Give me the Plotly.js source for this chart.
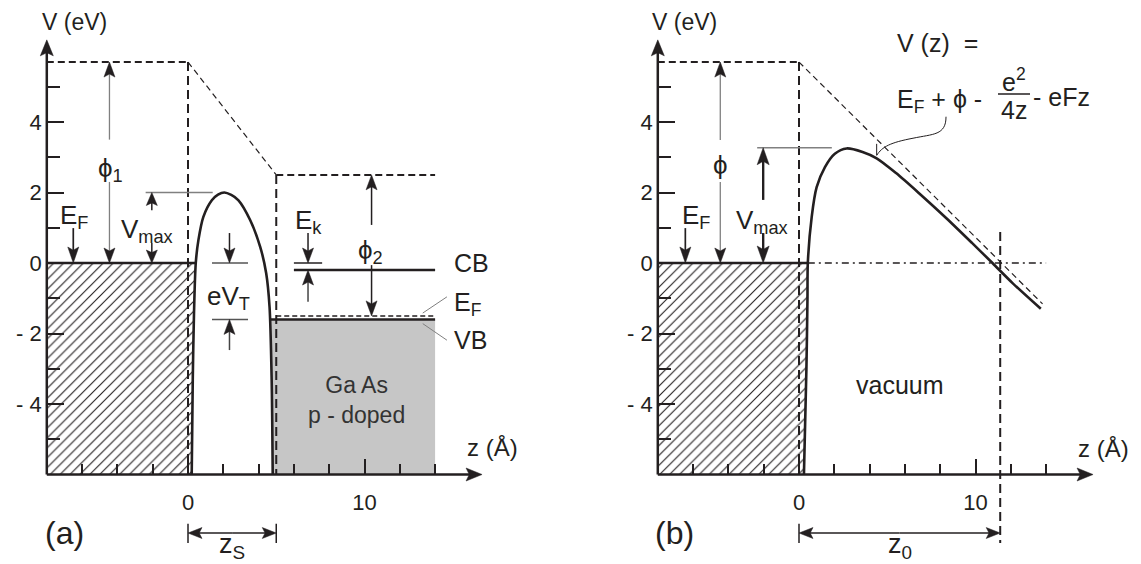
<!DOCTYPE html>
<html><head><meta charset="utf-8">
<script src="https://cdn.plot.ly/plotly-3.0.1.min.js"></script>
<style>html,body{margin:0;padding:0;background:#fff;}#plot{width:1141px;height:564px;}</style>
</head><body><div id="plot"></div>
<script>
// ---------------- values ----------------
// axes (both panels)
const yTickVals = [-4, -2, 0, 2, 4];
const yTickText = ['- 4', '- 2', '0', '2', '4'];
const yMinorVals = [-5, -3, -1, 1, 3, 5];
const xTickVals = [0, 10];
const xTickText = ['0', '10'];
const xMinorVals = [-6, -4, -2, 2, 4, 6, 8, 12, 14];
const zAxisMin = -8, vAxisMin = -6, zArrowTip = 16.66, vArrowTip = 6.33;

// panel (a): metal tip / gap / p-doped GaAs
const zBarrierA = [0.21, 0.27, 0.34, 0.44, 0.59, 0.87, 1.35, 1.7, 2.06, 2.45, 2.86, 3.52, 4.09, 4.43, 4.62, 4.74, 4.80];
const vBarrierA = [-6.0, -3.31, -1.42, 0.0, 0.65, 1.31, 1.78, 1.94, 2.0, 1.93, 1.78, 1.22, 0.46, -0.29, -1.24, -3.31, -6.0];
const vacTip = 5.7;      // E_F + phi1
const zGap = 5;          // z_S
const vacGaAs = 2.5;     // vacuum level of GaAs
const cbGaAs = -0.2;     // CB
const efGaAs = -1.5;     // E_F of GaAs
const vbGaAs = -1.6;     // VB
const vmaxA = 2.0;
const zSampleEnd = 14;

// panel (b): metal / vacuum with applied field
const zBarrierB = [0.28, 0.42, 0.48, 0.5, 0.72, 1.0, 1.47, 2.03, 2.7, 3.6, 4.4, 5.5, 6.8, 8.35, 9.8, 10.96, 12.1, 13.7];
const vBarrierB = [-6.0, -3.0, -1.0, 0.0, 1.31, 2.15, 2.72, 3.1, 3.25, 3.15, 2.97, 2.55, 1.98, 1.27, 0.57, 0.0, -0.57, -1.3];
const vmaxB = 3.27;
const z0 = 11.4;
const fieldLineEnd = [13.8, -1.16];
const zDashDotEnd = 14;

// ---------------- layout geometry (pixels) ----------------
const W = 1141, H = 564, SPLIT = 560;
const X0A = 188, X0B = 799, SX = 17.65, Y0 = 263, SY = 35.25;
const INK = '#231f20', GRAY = '#808080', FONT = 'Liberation Sans, Arial, Helvetica, sans-serif';
const A = {x: 'x', y: 'y'}, B = {x: 'x2', y: 'y2'};

const shapes = [], annotations = [];

function seg(ax, x0, y0, x1, y1, o = {}) {
  shapes.push({type: 'line', xref: ax.x, yref: ax.y, x0, y0, x1, y1,
    line: {color: o.color || INK, width: o.width || 1.5, dash: o.dash || 'solid'}});
}
function head(ax, x, y, dir, L = 15, Wd = 11, color = INK) {
  const s = {up: [0, 1], down: [0, -1], left: [-1, 0], right: [1, 0]}[dir];
  const bx = -s[0] * L, by = -s[1] * L, nx = -s[0] * L * 0.8, ny = -s[1] * L * 0.8;
  const px = -s[1] * Wd / 2, py = s[0] * Wd / 2;
  const P = (dx, dy) => (x + dx / SX).toFixed(4) + ',' + (y + dy / SY).toFixed(4);
  shapes.push({type: 'path', xref: ax.x, yref: ax.y,
    path: 'M' + P(0, 0) + 'L' + P(bx + px, by + py) + 'L' + P(nx, ny) + 'L' + P(bx - px, by - py) + 'Z',
    fillcolor: color, line: {width: 0.5, color}});
}
// line from (x0,y0) to head at (x1,y1)
function arrow(ax, x0, y0, x1, y1, o = {}) {
  const L = o.L || 15, Wd = o.Wd || 11;
  let dir, ex = x1, ey = y1;
  if (x0 === x1) { dir = y1 > y0 ? 'up' : 'down'; ey = y1 - Math.sign(y1 - y0) * L * 0.7 / SY; }
  else { dir = x1 > x0 ? 'right' : 'left'; ex = x1 - Math.sign(x1 - x0) * L * 0.7 / SX; }
  seg(ax, x0, y0, ex, ey, o);
  head(ax, x1, y1, dir, L, Wd, o.headColor || INK);
}
function ann(px, py, text, size = 25, xanchor = 'center', o = {}) {
  annotations.push(Object.assign({xref: 'paper', yref: 'paper', x: px / W, y: 1 - py / H, text,
    showarrow: false, xanchor, yanchor: 'middle', font: {family: FONT, size, color: INK}}, o));
}
function zAt(zs, vs, v) {
  for (let i = 0; i < zs.length - 1; i++) {
    const a = vs[i], b = vs[i + 1];
    if ((a - v) * (b - v) <= 0 && a !== b) return zs[i] + (zs[i + 1] - zs[i]) * (v - a) / (b - a);
  }
  return zs[0];
}
function branches(zs, vs) {
  const k = vs.indexOf(Math.max(...vs));
  return {lz: zs.slice(0, k + 1), lv: vs.slice(0, k + 1), rz: zs.slice(k), rv: vs.slice(k)};
}
function axesShapes(ax) {
  seg(ax, zAxisMin, vAxisMin, zArrowTip - 10 / SX, vAxisMin, {width: 2.5});
  head(ax, zArrowTip, vAxisMin, 'right', 16, 13);
  seg(ax, zAxisMin, vAxisMin, zAxisMin, vArrowTip - 10 / SY, {width: 2.5});
  head(ax, zAxisMin, vArrowTip, 'up', 16, 13);
}

// ---------------- panel (a) ----------------
const brA = branches(zBarrierA, vBarrierA);
const zEdgeA = zAt(brA.lz, brA.lv, 0);
const lowA = brA.lz.map((z, i) => [z, brA.lv[i]]).filter(p => p[1] < 0).sort((p, q) => q[1] - p[1]);
const hatchA = {z: [zAxisMin, zAxisMin, zEdgeA, ...lowA.map(p => p[0])],
                v: [vAxisMin, 0, 0, ...lowA.map(p => p[1])]};

const zVbEdge = zAt(brA.rz, brA.rv, vbGaAs);
const lowRA = brA.rz.map((z, i) => [z, brA.rv[i]]).filter(p => p[1] < vbGaAs).sort((p, q) => p[1] - q[1]);
const grayA = {z: [zVbEdge, zSampleEnd, zSampleEnd, ...lowRA.map(p => p[0])],
               v: [vbGaAs, vbGaAs, vAxisMin, ...lowRA.map(p => p[1])]};

seg(A, zAxisMin, 0, zEdgeA, 0, {width: 2.5});
seg(A, zAxisMin, vacTip, 0, vacTip, {width: 2, dash: '7px,4px'});
seg(A, 0, vacTip, 0, vAxisMin, {width: 2, dash: '9px,5px'});
seg(A, 0, vacTip, zGap, vacGaAs, {width: 1.2, dash: '6px,4px'});
seg(A, zGap, vacGaAs, zSampleEnd, vacGaAs, {width: 2, dash: '7px,4px'});
seg(A, zGap, vacGaAs, zGap, vAxisMin, {width: 2, dash: '9px,5px'});
seg(A, zVbEdge, vbGaAs, zSampleEnd, vbGaAs, {width: 2.5});
seg(A, zGap, efGaAs, zSampleEnd, efGaAs, {width: 1.5, dash: '5px,3px'});
seg(A, 6, cbGaAs, zSampleEnd, cbGaAs, {width: 2.5});
seg(A, 6, 0, 7.6, 0, {width: 1.5});
seg(A, 1.36, 0, 3.4, 0, {width: 1.5, color: '#555'});
seg(A, 1.36, vbGaAs, 3.4, vbGaAs, {width: 1.5, color: '#555'});
seg(A, -2.4, vmaxA, 1.4, vmaxA, {width: 1.5, color: GRAY});
// arrows
arrow(A, -6.5, 0.99, -6.5, 0, {L: 16, Wd: 11, width: 1.7});
arrow(A, -4.45, 3.5, -4.45, vacTip, {color: GRAY, width: 1.3});
arrow(A, -4.45, 2.3, -4.45, 0, {color: GRAY, width: 1.3});
arrow(A, -2.05, 1.5, -2.05, vmaxA, {L: 13});
arrow(A, -2.05, 0.57, -2.05, 0, {L: 13});
arrow(A, 2.35, 0.85, 2.35, 0);
arrow(A, 2.35, -2.47, 2.35, vbGaAs, {color: '#444'});
arrow(A, 6.8, 0.85, 6.8, 0);
arrow(A, 6.8, -1.1, 6.8, cbGaAs, {color: '#444'});
arrow(A, 10.4, 1.08, 10.4, vacGaAs);
arrow(A, 10.4, -0.06, 10.4, efGaAs);
// z_S
seg(A, 0, -7.4, 0, -7.94, {width: 1.5});
seg(A, zGap, -7.4, zGap, -7.94, {width: 1.5});
arrow(A, zGap / 2, -7.66, 0, -7.66, {L: 14, Wd: 11});
arrow(A, zGap / 2, -7.66, zGap, -7.66, {L: 14, Wd: 11});
// leaders to E_F / VB
seg(A, 14.67, -0.96, 13.3, -1.42, {width: 1, color: GRAY});
seg(A, 14.67, -2.19, 13.3, -1.72, {width: 1, color: GRAY});
axesShapes(A);

// ---------------- panel (b) ----------------
const brB = branches(zBarrierB, vBarrierB);
const zEdgeB = zAt(brB.lz, brB.lv, 0);
const lowB = brB.lz.map((z, i) => [z, brB.lv[i]]).filter(p => p[1] < 0).sort((p, q) => q[1] - p[1]);
const hatchB = {z: [zAxisMin, zAxisMin, zEdgeB, ...lowB.map(p => p[0])], v: [vAxisMin, 0, 0, ...lowB.map(p => p[1])]};

seg(B, zAxisMin, 0, zEdgeB, 0, {width: 2.5});
seg(B, zAxisMin, vacTip, 0, vacTip, {width: 2, dash: '7px,4px'});
seg(B, 0, vacTip, 0, vAxisMin, {width: 2, dash: '9px,5px'});
seg(B, 0, vacTip, fieldLineEnd[0], fieldLineEnd[1], {width: 1.2, dash: '6px,4px'});
seg(B, zEdgeB, 0, zDashDotEnd, 0, {width: 1.5, dash: '7px,4px,2px,4px'});
seg(B, z0, 0.88, z0, -7.94, {width: 2, dash: '9px,5px'});
seg(B, -2.37, vmaxB, 1.86, vmaxB, {width: 1.5, color: GRAY});
arrow(B, -6.44, 0.99, -6.44, 0, {L: 16, Wd: 11, width: 1.7});
arrow(B, -4.46, 3.49, -4.46, vacTip, {color: GRAY, width: 1.3});
arrow(B, -4.46, 2.3, -4.46, 0, {color: GRAY, width: 1.3});
arrow(B, -2.03, 1.79, -2.03, vmaxB, {width: 2.4, L: 17, Wd: 12});
arrow(B, -2.03, 0.85, -2.03, 0, {width: 2.4, L: 17, Wd: 12});
seg(B, 0, -7.4, 0, -7.94, {width: 1.5});
arrow(B, z0 / 2, -7.66, 0, -7.66, {L: 14, Wd: 11});
arrow(B, z0 / 2, -7.66, z0, -7.66, {L: 14, Wd: 11});
// leader from formula to curve
shapes.push({type: 'path', xref: 'x2', yref: 'y2', line: {color: INK, width: 1},
  path: 'M8.33,4.15 C8.33,3.62 7.6,3.66 6.46,3.54 C5.2,3.42 4.7,3.3 4.4,3.05'});
seg(B, 4.4, 3.38, 4.4, 3.06, {width: 1});
axesShapes(B);

// fraction bar of the formula
shapes.push({type: 'line', xref: 'paper', yref: 'paper', x0: 998 / W, x1: 1030 / W, y0: 1 - 94 / H, y1: 1 - 94 / H,
  line: {color: INK, width: 1.5}});

// ---------------- texts ----------------
ann(40, 22, 'V (eV)', 23, 'left');
ann(74, 217, 'E<sub>F</sub>', 26);
ann(110, 170, 'ϕ<sub>1</sub>', 26);
ann(147, 231, 'V<sub>max</sub>', 26);
ann(228, 297, 'eV<sub>T</sub>', 26);
ann(308, 221, 'E<sub>k</sub>', 26);
ann(370, 251, 'ϕ<sub>2</sub>', 26);
ann(452, 263, 'CB', 25, 'left');
ann(452, 304, 'E<sub>F</sub>', 25, 'left');
ann(452, 340, 'VB', 25, 'left');
ann(356, 400, 'Ga As<br>p - doped', 23, 'center', {font: {family: FONT, size: 23, color: '#333'}});
ann(465, 447, 'z (Å)', 24, 'left');
ann(43, 533, '(a)', 32, 'left');
ann(232, 546, 'z<sub>S</sub>', 27);

ann(650, 22, 'V (eV)', 23, 'left');
ann(696, 217, 'E<sub>F</sub>', 26);
ann(720, 165, 'ϕ', 26);
ann(762, 221, 'V<sub>max</sub>', 26);
ann(895, 43, 'V (z)  =', 25, 'left');
ann(895, 101, 'E<sub>F</sub> + ϕ - ', 25, 'left');
ann(1014, 80, 'e<sup>2</sup>', 25);
ann(1014, 110, '4z', 25);
ann(1031, 97, '- eFz', 25, 'left');
ann(900, 385, 'vacuum', 25);
ann(1076, 448, 'z (Å)', 24, 'left');
ann(653, 533, '(b)', 32, 'left');
ann(900, 546, 'z<sub>0</sub>', 27);

// ---------------- traces ----------------
const hatchStyle = {shape: '/', size: 7, solidity: 0.16, fgcolor: INK, bgcolor: 'white'};
const traces = [
  {x: hatchA.z, y: hatchA.v, xaxis: 'x', yaxis: 'y', mode: 'lines', fill: 'toself', fillcolor: 'white',
   fillpattern: hatchStyle, line: {width: 0, color: 'rgba(0,0,0,0)'}, hoverinfo: 'skip'},
  {x: grayA.z, y: grayA.v, xaxis: 'x', yaxis: 'y', mode: 'lines', fill: 'toself', fillcolor: '#c6c6c6',
   line: {width: 0, color: 'rgba(0,0,0,0)'}, hoverinfo: 'skip'},
  {x: zBarrierA, y: vBarrierA, xaxis: 'x', yaxis: 'y', mode: 'lines',
   line: {color: INK, width: 2.6, shape: 'spline', smoothing: 0.8}},
  {x: hatchB.z, y: hatchB.v, xaxis: 'x2', yaxis: 'y2', mode: 'lines', fill: 'toself', fillcolor: 'white',
   fillpattern: hatchStyle, line: {width: 0, color: 'rgba(0,0,0,0)'}, hoverinfo: 'skip'},
  {x: zBarrierB, y: vBarrierB, xaxis: 'x2', yaxis: 'y2', mode: 'lines',
   line: {color: INK, width: 2.6, shape: 'spline', smoothing: 0.8}}
];

function axX(domain, x0px) {
  return {domain, range: [(domain[0] * W - x0px) / SX, (domain[1] * W - x0px) / SX], anchor: 'free',
    position: 1 - (Y0 - vAxisMin * SY) / H, showgrid: false, zeroline: false, showline: false,
    tickmode: 'array', tickvals: xTickVals, ticktext: xTickText, ticks: 'inside', ticklen: 16, tickwidth: 2,
    tickcolor: INK, ticklabelstandoff: 12, tickfont: {family: FONT, size: 22, color: INK},
    minor: {tickmode: 'array', tickvals: xMinorVals, ticks: 'inside', ticklen: 11, tickwidth: 2, tickcolor: INK},
    fixedrange: true};
}
function axY(x0px) {
  return {domain: [0, 1], range: [(Y0 - H) / SY, Y0 / SY], anchor: 'free', position: (x0px + zAxisMin * SX) / W,
    side: 'left', showgrid: false, zeroline: false, showline: false,
    tickmode: 'array', tickvals: yTickVals, ticktext: yTickText, ticks: 'inside', ticklen: 16, tickwidth: 2,
    tickcolor: INK, ticklabelstandoff: 5, tickfont: {family: FONT, size: 22, color: INK},
    minor: {tickmode: 'array', tickvals: yMinorVals, ticks: 'inside', ticklen: 12, tickwidth: 2, tickcolor: INK},
    fixedrange: true};
}

const layout = {
  width: W, height: H, margin: {l: 0, r: 0, t: 0, b: 0}, paper_bgcolor: 'white', plot_bgcolor: 'white',
  showlegend: false, hovermode: false,
  xaxis: axX([0, SPLIT / W], X0A), yaxis: axY(X0A),
  xaxis2: axX([SPLIT / W, 1], X0B), yaxis2: axY(X0B),
  shapes, annotations
};
Plotly.newPlot('plot', traces, layout, {staticPlot: true, displayModeBar: false});
</script></body></html>
